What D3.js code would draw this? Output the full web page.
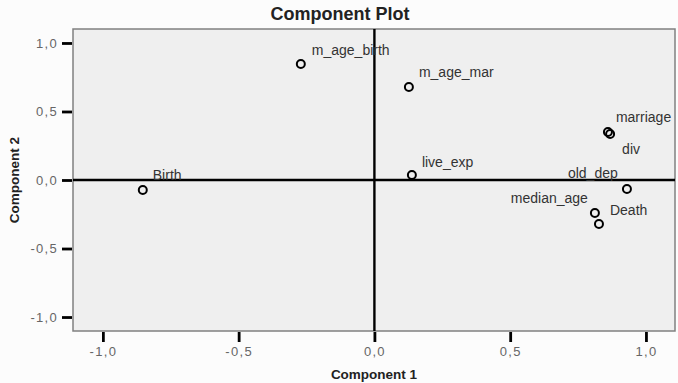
<!DOCTYPE html>
<html>
<head>
<meta charset="utf-8">
<script src="https://cdn.jsdelivr.net/npm/d3@7"></script>
<style>
  html, body { margin: 0; padding: 0; background: #fcfcfc; }
  svg { display: block; font-family: "Liberation Sans", Arial, sans-serif; }
</style>
</head>
<body>
<svg id="chart" width="678" height="383"></svg>
<script>
// ---- data ----
const variables = ["m_age_birth", "m_age_mar", "marriage", "div", "live_exp", "Birth", "old_dep", "median_age", "Death"];
const component1 = [-0.271, 0.127, 0.860, 0.868, 0.138, -0.853, 0.930, 0.812, 0.827];
const component2 = [0.847, 0.679, 0.350, 0.336, 0.036, -0.073, -0.066, -0.241, -0.321];
const tickValues = [-1.0, -0.5, 0.0, 0.5, 1.0];
const tickLabels = ["-1,0", "-0,5", "0,0", "0,5", "1,0"];

// ---- label placement (layout) ----
const labelOffset = {
  "m_age_birth": [11, -9, "start"],
  "m_age_mar": [10, -10, "start"],
  "marriage": [8, -10, "start"],
  "div": [12, 20, "start"],
  "live_exp": [10, -8, "start"],
  "Birth": [10, -10, "start"],
  "old_dep": [-59, -11, "start"],
  "median_age": [-7, -10, "end"],
  "Death": [11, -9, "start"]
};

const svg = d3.select("#chart");
const L = 73, R = 675, T = 29, B = 331;

const x = d3.scaleLinear().domain([-1.11, 1.107]).range([L, R]);
const y = d3.scaleLinear().domain([-1.102, 1.102]).range([B, T]);

// plot area
svg.append("rect")
  .attr("x", L).attr("y", T).attr("width", R - L).attr("height", B - T)
  .attr("fill", "#efefef").attr("stroke", "#808080").attr("stroke-width", 1.5);

// reference lines at zero
svg.append("line")
  .attr("x1", L).attr("x2", R).attr("y1", y(0)).attr("y2", y(0))
  .attr("stroke", "#000").attr("stroke-width", 2.4);
svg.append("line")
  .attr("x1", x(0)).attr("x2", x(0)).attr("y1", T).attr("y2", B)
  .attr("stroke", "#000").attr("stroke-width", 2.4);

// axes
const fmt = d => tickLabels[tickValues.indexOf(d)];
const xAxis = d3.axisBottom(x).tickValues(tickValues).tickFormat(fmt).tickSize(10).tickPadding(5);
const yAxis = d3.axisLeft(y).tickValues(tickValues).tickFormat(fmt).tickSize(10).tickPadding(4);

const gx = svg.append("g").attr("transform", `translate(0,${B + 1})`).call(xAxis);
const gy = svg.append("g").attr("transform", `translate(${L - 1},0)`).call(yAxis);
[gx, gy].forEach(g => {
  g.select(".domain").remove();
  g.selectAll(".tick line").attr("stroke", "#000").attr("stroke-width", 2.8);
  g.selectAll(".tick text")
    .attr("fill", "#666").attr("font-size", 13).attr("letter-spacing", 1.3)
    .attr("font-family", "Liberation Sans, Arial, sans-serif");
});

// points
svg.append("g").selectAll("circle")
  .data(variables)
  .join("circle")
  .attr("cx", (d, i) => x(component1[i]))
  .attr("cy", (d, i) => y(component2[i]))
  .attr("r", 4)
  .attr("fill", "none")
  .attr("stroke", "#000")
  .attr("stroke-width", 2);

// labels
svg.append("g").selectAll("text")
  .data(variables)
  .join("text")
  .attr("x", (d, i) => x(component1[i]) + labelOffset[d][0])
  .attr("y", (d, i) => y(component2[i]) + labelOffset[d][1])
  .attr("text-anchor", d => labelOffset[d][2])
  .attr("font-size", 14)
  .attr("fill", "#333")
  .text(d => d);

// titles
svg.append("text")
  .attr("x", 340).attr("y", 20)
  .attr("text-anchor", "middle")
  .attr("font-size", 18).attr("font-weight", "bold").attr("fill", "#222")
  .text("Component Plot");

svg.append("text")
  .attr("x", (L + R) / 2).attr("y", 379)
  .attr("text-anchor", "middle")
  .attr("font-size", 13.5).attr("font-weight", "bold").attr("fill", "#222")
  .text("Component 1");

svg.append("text")
  .attr("transform", `translate(19,${(T + B) / 2}) rotate(-90)`)
  .attr("text-anchor", "middle")
  .attr("font-size", 13.5).attr("font-weight", "bold").attr("fill", "#222")
  .text("Component 2");
</script>
</body>
</html>
